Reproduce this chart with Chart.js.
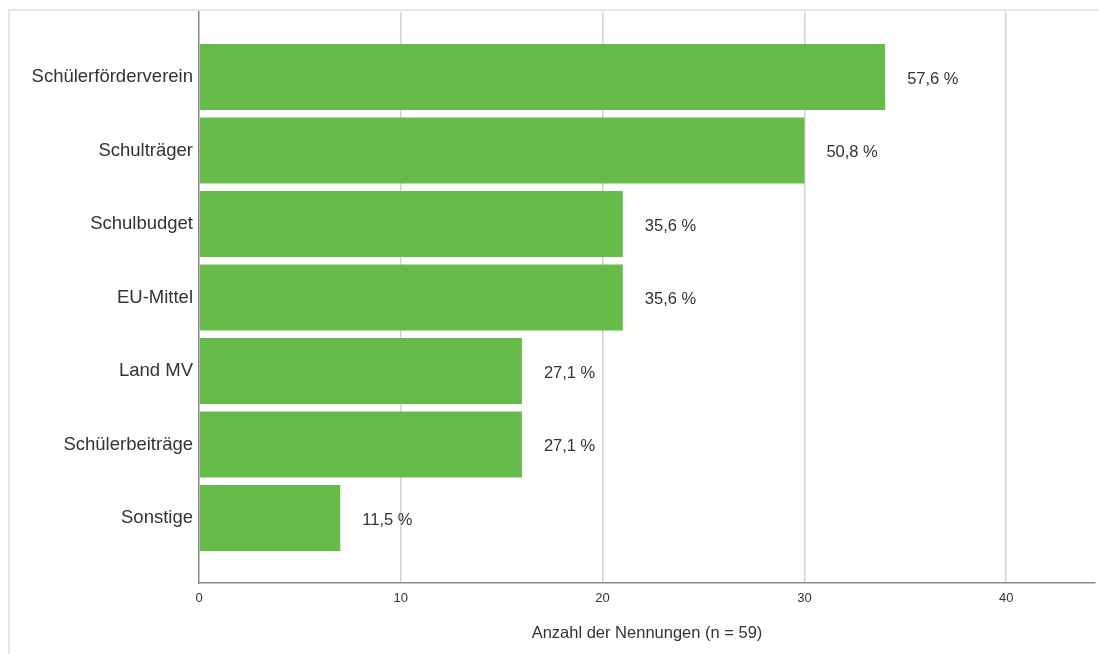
<!DOCTYPE html>
<html>
<head>
<meta charset="utf-8">
<script src="https://cdn.jsdelivr.net/npm/chart.js@4/dist/chart.umd.min.js"></script>
<style>
  html, body { margin: 0; padding: 0; background: #fff; overflow: hidden; }
  .frame { position: absolute; left: 8px; top: 9px; width: 1200px; height: 700px; border: 2px solid #e6e6e6; }
  #chart { position: absolute; left: 0; top: 0; }
</style>
</head>
<body>
<div class="frame"></div>
<canvas id="chart" width="1099" height="654"></canvas>
<script>
// Finanzierungsquellen, Anzahl der Nennungen (n = 59)
var kategorien = ['Schülerförderverein', 'Schulträger', 'Schulbudget', 'EU-Mittel', 'Land MV', 'Schülerbeiträge', 'Sonstige'];
var nennungen = [34, 30, 21, 21, 16, 16, 7];
var prozente = ['57,6 %', '50,8 %', '35,6 %', '35,6 %', '27,1 %', '27,1 %', '11,5 %'];
var xTicks = [0, 10, 20, 30, 40];

var schrift = '"Liberation Sans", Arial, sans-serif';
var textFarbe = '#333333';

// Prozentwerte rechts neben die Balken schreiben
var prozentLabels = {
    id: 'prozentLabels',
    afterDatasetsDraw: function (chart) {
        var ctx = chart.ctx;
        var meta = chart.getDatasetMeta(0);
        ctx.save();
        ctx.font = '16.5px ' + schrift;
        ctx.fillStyle = textFarbe;
        ctx.textAlign = 'left';
        ctx.textBaseline = 'middle';
        meta.data.forEach(function (bar, i) {
            ctx.fillText(prozente[i], bar.x + 22, bar.y + 2);
        });
        ctx.restore();
    }
};

var punkte = nennungen.map(function (v, i) { return {x: v, y: i}; });

new Chart(document.getElementById('chart').getContext('2d'), {
    type: 'bar',
    data: {
        datasets: [{
            label: 'Anzahl der Nennungen',
            data: punkte,
            backgroundColor: '#66bb4a',
            borderWidth: 0,
            barPercentage: 0.9,
            categoryPercentage: 1
        }]
    },
    options: {
        indexAxis: 'y',
        responsive: false,
        animation: false,
        layout: {padding: {top: 12, right: 4, bottom: 0, left: 0}},
        plugins: {legend: {display: false}, tooltip: {enabled: false}},
        scales: {
            x: {
                type: 'linear',
                position: 'bottom',
                min: 0,
                max: 44.4,
                afterFit: function (s) { s.height = 71; },
                afterBuildTicks: function (s) {
                    s.ticks = xTicks.map(function (v) { return {value: v}; });
                },
                grid: {
                    drawTicks: false,
                    color: function (c) { return c.tick && c.tick.value === 0 ? 'rgba(0,0,0,0)' : '#d2d2d2'; },
                    lineWidth: 1.5
                },
                border: {display: true, color: '#8a8a8a', width: 1.5},
                ticks: {
                    padding: 8,
                    color: textFarbe,
                    font: {family: schrift, size: 13}
                },
                title: {
                    display: true,
                    text: 'Anzahl der Nennungen (n = 59)',
                    color: textFarbe,
                    font: {family: schrift, size: 16.5},
                    padding: {top: 0, bottom: 11}
                }
            },
            y: {
                type: 'linear',
                reverse: true,
                offset: false,
                bounds: 'data',
                min: -0.884,
                max: 6.884,
                afterFit: function (s) {
                    s.width = 199;
                    s.paddingTop = 0;
                    s.paddingBottom = 0;
                },
                afterBuildTicks: function (s) {
                    s.ticks = kategorien.map(function (k, i) { return {value: i}; });
                },
                grid: {display: false, drawTicks: false},
                border: {display: true, color: '#8a8a8a', width: 1.5},
                ticks: {
                    padding: 6,
                    color: textFarbe,
                    font: {family: schrift, size: 18.5},
                    callback: function (v) { return kategorien[v]; }
                }
            }
        }
    },
    plugins: [prozentLabels]
});
</script>
</body>
</html>
